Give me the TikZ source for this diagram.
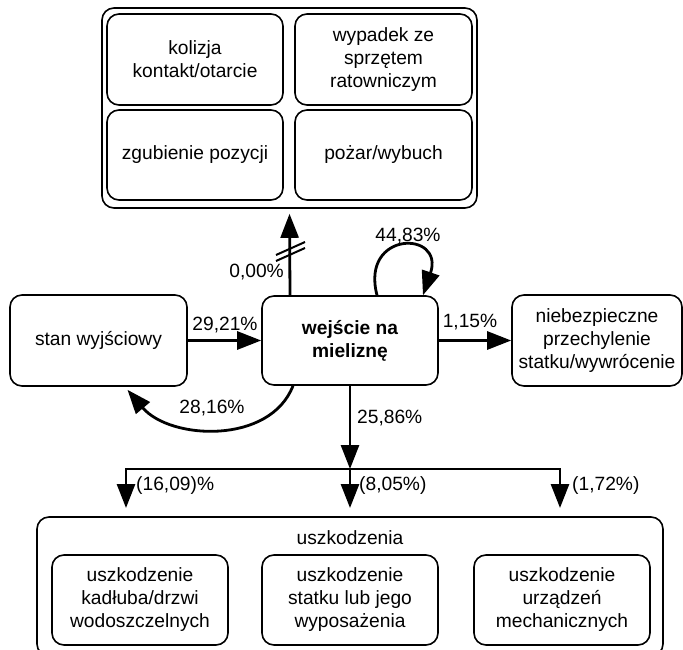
\documentclass[tikz,border=0pt]{standalone}
\usepackage{fontspec}
\setmainfont{Liberation Sans}
\usetikzlibrary{arrows.meta}
\begin{document}
\begin{tikzpicture}[x=1pt,y=-1pt,
  txt/.style={font=\fontsize{19.2}{23}\selectfont},
  box/.style={draw, line width=1.6pt, rounded corners=12pt, align=center, inner sep=0pt, txt},
  conn/.style={line width=2.8pt, -{Triangle[length=24pt,width=18pt]}},
  lbl/.style={inner sep=0pt, txt}]
\useasboundingbox (0,0) rectangle (683,650);
\fill[white] (0,0) rectangle (683,650);
\clip (0,0) rectangle (683,650);
% top group
\node[box, minimum width=375pt, minimum height=200pt] (grp) at (289.5,108) {};
\node[box, minimum width=176pt, minimum height=91pt] (kol) at (195,59.5) {kolizja\\kontakt/otarcie};
\node[box, minimum width=177pt, minimum height=91pt] (wyp) at (383.5,59.5) {wypadek ze\\sprzętem\\ratowniczym};
\node[box, minimum width=176pt, minimum height=90pt] (zgu) at (195,155) {zgubienie pozycji};
\node[box, minimum width=177pt, minimum height=90pt] (poz) at (383.5,155) {pożar/wybuch};
% middle row
\node[box, minimum width=177pt, minimum height=91pt] (stan) at (98.5,340.5) {stan wyjściowy};
\node[box, minimum width=176pt, minimum height=89pt, font=\fontsize{19.2}{23}\selectfont\bfseries] (wej) at (350,340.5) {wejście na\\mieliznę};
\node[box, minimum width=170pt, minimum height=91pt] (nieb) at (597,340.5) {niebezpieczne\\przechylenie\\statku/wywrócenie};
% bottom group
\node[box, minimum width=626pt, minimum height=139pt] (usz) at (350,586.5) {};
\node[lbl] (uszl) at (350,538) {uszkodzenia};
\node[box, minimum width=176pt, minimum height=90pt] (kad) at (140,600) {uszkodzenie\\kadłuba/drzwi\\wodoszczelnych};
\node[box, minimum width=176pt, minimum height=90pt] (sta) at (350,600) {uszkodzenie\\statku lub jego\\wyposażenia};
\node[box, minimum width=176pt, minimum height=90pt] (mech) at (562,600) {uszkodzenie\\urządzeń\\mechanicznych};
% connectors
\draw[conn] (stan) -- (wej);
\node[lbl] (l1) at (225,325) {29,21\%};
\draw[conn] (wej) -- (nieb);
\node[lbl] (l2) at (470,322) {1,15\%};
\draw[conn] ([xshift=-60pt]wej.north) -- ([yshift=-5pt]grp.south);
\draw[line width=2pt] (276,255) -- (305,242);
\draw[line width=2pt] (276,261) -- (305,248);
\node[lbl, anchor=east] (l3) at (284,272) {0,00\%};
\draw[conn] ([xshift=27pt]wej.north) .. controls +(-17,-65) and +(22,-65) .. ([xshift=73pt]wej.north);
\node[lbl] (l4) at (408,236) {44,83\%};
\draw[conn] ([xshift=-57pt]wej.south) .. controls (270,445) and (170,440) .. ([xshift=29pt,yshift=-3pt]stan.south);
\node[lbl] (l5) at (212,408) {28,16\%};
\coordinate (br) at (350,469);
\coordinate (el) at (126,508);
\coordinate (em) at (350,508);
\coordinate (er) at (560,508);
\draw[conn] (wej.south) -- (br);
\node[lbl, anchor=west] (l6) at (357,418) {25,86\%};
\draw[conn] (br) -| (el);
\draw[conn] (br) -| (er);
\draw[conn] (br) -- (em);
\node[lbl, anchor=west] (l7) at (136,486) {(16,09)\%};
\node[lbl, anchor=west] (l8) at (359,486) {(8,05\%)};
\node[lbl, anchor=west] (l9) at (572,486) {(1,72\%)};
\end{tikzpicture}
\end{document}
